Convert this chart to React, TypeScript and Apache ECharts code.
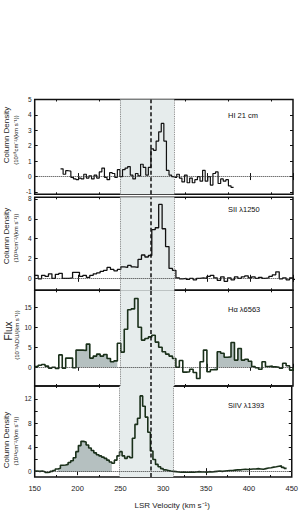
import React, { useEffect, useRef } from "react";
import * as echarts from "echarts";

// ---------- data ----------
const velocityTicks = [150, 200, 250, 300, 350, 400, 450];
const velocityMinorTicks = [175, 225, 275, 325, 375, 425];

const hiStart = 180;
const hiStep = 3;
const hiValues = [
  0.5, 0.15, 0.38, 0.35, -0.05, -0.15, -0.2, -0.1, -0.15, 0.15, -0.1, 0.05, -0.15, 0.1, -0.1, 0.3,
  0.55, -0.05, -0.2, 0.25, 0.2, -0.05, 0.45, 0.0, 0.45, 0.55, 0.65, 0.1, -0.15, 0.2, 0.05, 0.8,
  0.6, 0.1, 0.6, 1.8, 1.7, 2.3, 2.9, 3.45, 2.3, 0.4, 0.1, 0.0, -0.05, 0.15, -0.1, -0.35,
  0.1, -0.4, -0.1, -0.4, -0.2, 0.0, -0.3, 0.4, -0.3, 0.0, -0.55, 0.2, 0.3, -0.45, -0.15, -0.3,
  -0.2, -0.6, -0.7,
];

const siiStart = 150;
const siiStep = 4;
const siiValues = [
  0.3, -0.05, 0.3, 0.2, 0.45, 0.0, 0.4, 0.5, 0.0, 0.0, 0.05, 0.6, 0.6, 0.2, 0.3, 0.1,
  0.3, 0.45, 0.55, 0.7, 0.8, 1.1, 0.9, 0.75, 0.9, 1.15, 1.1, 1.3, 1.15, 1.1, 1.9, 2.35,
  2.15, 2.3, 4.9, 5.1, 7.45, 5.0, 3.2, 1.0, 0.8, 0.05, -0.05, 0.0, -0.1, 0.0, -0.15, 0.0,
  0.05, 0.0, 0.2, 0.3, 0.05, -0.2, 0.15, -0.3, 0.05, -0.15, 0.15, 0.0, 0.15, 0.25, 0.05, 0.15,
  0.0, 0.1, 0.0, 0.05, 0.2, 0.35, 0.65, -0.05, 0.05, -0.15, 0.05, -0.1,
];

const haStart = 150;
const haStep = 4;
const haValues = [
  0.2, 0.5, 0.7, 0.3, -0.2, 0.0, -0.3, 3.1, -0.2, 2.3, 2.3, -0.1, 4.3, 4.3, 4.2, 5.8,
  2.3, 2.8, 3.3, 2.8, 3.2, 2.2, 1.4, 1.6, 6.0, 3.8, 9.5, 14.4, 14.6, 17.2, 10.0, 6.8,
  7.2, 7.6, 8.0, 6.3, 5.0, 3.9, 3.3, 2.8, 2.2, 0.0, 1.7, -1.2, -1.1, -0.5, -1.3, -2.8,
  1.4, 4.3, -1.1, -0.6, -0.6, 3.9, 3.5, 2.5, 2.6, 6.2, 1.8, 4.7, 1.8, 2.0, 1.5, 0.2,
  -0.1, -0.5, 1.4, 0.2, 0.3, 0.1, 0.0, -0.2, 1.0, 0.4, -0.7, -0.3,
];
const haFillRanges = [
  [198, 246],
  [358, 402],
];

const sivStart = 150;
const sivStep = 3;
const sivValues = [
  0.1, 0.05, 0.1, 0.0, -0.15, -0.1, 0.05, 0.2, 0.45, 0.55, 1.05, 1.1, 1.2, 1.5, 1.8, 2.3,
  3.3, 4.3, 5.0, 4.9, 4.4, 3.9, 3.5, 3.1, 2.8, 2.6, 2.4, 2.2, 1.9, 1.6, 1.4, 1.9,
  2.6, 3.3, 2.6, 2.2, 2.5, 2.3, 5.5, 7.8, 8.8, 12.5, 10.8, 9.0, 6.5, 3.4, 2.0, 1.2,
  0.8, 0.5, 0.3, 0.2, 0.1, 0.05, 0.0, -0.05, -0.1, -0.05, -0.1, -0.1, -0.05, -0.1, -0.05, 0.0,
  -0.05, -0.05, -0.1, 0.0, -0.05, 0.0, 0.05, 0.1, 0.05, 0.1, 0.15, 0.2, 0.2, 0.25, 0.3, 0.3,
  0.35, 0.4, 0.35, 0.4, 0.45, 0.45, 0.5, 0.45, 0.4, 0.5, 0.6, 0.65, 0.75, 0.8, 0.9, 0.95,
  0.7, 0.55,
];
const sivFillRanges = [[177, 240]];

const shadeFrom = 249;
const shadeTo = 312;
const centerVelocity = 285;

const panelTitles = ["HI 21 cm", "SII λ1250", "Hα λ6563", "SiIV λ1393"];
const panelYNames = ["Column Density", "Column Density", "Flux", "Column Density"];
const panelYUnits = [
  "(10¹⁸cm⁻²/(km s⁻¹))",
  "(10¹³cm⁻²/(km s⁻¹))",
  "(10⁻³ADU/(km s⁻¹))",
  "(10¹¹cm⁻²/(km s⁻¹))",
];
const panelYTicks = [
  [-1, 0, 1, 2, 3, 4, 5],
  [0, 2, 4, 6, 8],
  [0, 5, 10, 15],
  [0, 2, 4, 6, 8, 10, 12],
];
const panelYLabels = [
  [-1, 0, 1, 2, 3, 4, 5],
  [0, 2, 4, 6, 8],
  [0, 5, 10, 15],
  [0, 4, 8, 12],
];
const panelYRange = [
  [-1.15, 5],
  [-1.21, 8.17],
  [-4.68, 19.25],
  [-0.88, 14.13],
];

// ---------- layout ----------
const GRID_LEFT = 34.7;
const GRID_WIDTH = 258.3;
const panelBoxes = [
  { top: 99.5, height: 94.8 },
  { top: 197.3, height: 93 },
  { top: 290.3, height: 95.7 },
  { top: 386, height: 91.7 },
];
const FONT = "'Liberation Sans', Arial, Helvetica, sans-serif";
const NARROW = "'Liberation Sans Narrow', 'Liberation Sans', Arial, sans-serif";

function toSeries(start: number, step: number, values: number[]) {
  const pts = values.map((v, i) => [start + i * step, v]);
  pts.push([start + values.length * step, values[values.length - 1]]);
  return pts;
}

function fillSubset(start: number, step: number, values: number[], from: number, to: number) {
  const pts: number[][] = [];
  let last = 0;
  values.forEach((v, i) => {
    const x = start + i * step;
    if (x >= from && x < to) {
      pts.push([x, v]);
      last = v;
    }
  });
  pts.push([to, last]);
  return pts;
}

function tickAxis(gridIndex: number, position: string, values: number[], length: number, isX: boolean, range?: number[]) {
  const base: any = {
    type: "value",
    gridIndex,
    position,
    axisLine: { show: false },
    splitLine: { show: false },
    axisLabel: { show: false },
    axisTick: {
      show: true,
      inside: true,
      length,
      customValues: values,
      lineStyle: { color: "#111", width: 1 },
    },
  };
  if (isX) {
    base.min = 150;
    base.max = 450;
  } else if (range) {
    base.min = range[0];
    base.max = range[1];
  }
  return base;
}

export default function App() {
  const ref = useRef<HTMLDivElement>(null);

  useEffect(() => {
    if (!ref.current) return;
    const chart = echarts.init(ref.current, undefined, { renderer: "svg" });

    const grids = panelBoxes.map((b) => ({
      left: GRID_LEFT,
      width: GRID_WIDTH,
      top: b.top,
      height: b.height,
      show: true,
      borderColor: "#111",
      borderWidth: 1.5,
      backgroundColor: "transparent",
    }));

    const xAxes: any[] = [];
    // index i: main bottom axes with major ticks + labels
    panelBoxes.forEach((_, i) => {
      xAxes.push({
        type: "value",
        gridIndex: i,
        min: 150,
        max: 450,
        position: "bottom",
        axisLine: { show: false },
        splitLine: { show: false },
        axisTick: {
          show: true,
          inside: true,
          length: 3.5,
          customValues: velocityTicks,
          lineStyle: { color: "#111", width: 1 },
        },
        axisLabel: {
          show: i === 3,
          customValues: velocityTicks,
          fontSize: 7.5,
          color: "#222",
          fontFamily: FONT,
          margin: 7,
        },
        name: i === 3 ? "LSR Velocity (km s⁻¹)" : "",
        nameLocation: "middle",
        nameGap: 24,
        nameTextStyle: { fontSize: 8, color: "#222", fontFamily: FONT, padding: [0, 0, 0, 18] },
      });
    });
    panelBoxes.forEach((_, i) => xAxes.push(tickAxis(i, "top", velocityTicks, 3.5, true)));
    panelBoxes.forEach((_, i) => xAxes.push(tickAxis(i, "bottom", velocityMinorTicks, 2, true)));
    panelBoxes.forEach((_, i) => xAxes.push(tickAxis(i, "top", velocityMinorTicks, 2, true)));

    const yAxes: any[] = [];
    panelBoxes.forEach((_, i) => {
      yAxes.push({
        type: "value",
        gridIndex: i,
        min: panelYRange[i][0],
        max: panelYRange[i][1],
        position: "left",
        axisLine: { show: false },
        splitLine: { show: false },
        axisTick: {
          show: true,
          inside: true,
          length: 3,
          customValues: panelYTicks[i],
          lineStyle: { color: "#111", width: 1 },
        },
        axisLabel: {
          show: true,
          customValues: panelYLabels[i],
          fontSize: 6.5,
          color: "#222",
          fontFamily: FONT,
          margin: 3,
        },
      });
    });
    panelBoxes.forEach((_, i) => yAxes.push(tickAxis(i, "right", panelYTicks[i], 3, false, panelYRange[i])));

    const datasets = [
      { data: toSeries(hiStart, hiStep, hiValues), color: "#111", width: 1.2 },
      { data: toSeries(siiStart, siiStep, siiValues), color: "#111", width: 1.3 },
      { data: toSeries(haStart, haStep, haValues), color: "#1a301a", width: 1.6 },
      { data: toSeries(sivStart, sivStep, sivValues), color: "#1a301a", width: 1.6 },
    ];

    const series: any[] = [];

    // shading + reference lines
    panelBoxes.forEach((_, i) => {
      series.push({
        type: "line",
        xAxisIndex: i,
        yAxisIndex: i,
        data: [],
        silent: true,
        z: 1,
        markArea: {
          silent: true,
          itemStyle: { color: "#e6ecec" },
          data: [[{ xAxis: shadeFrom }, { xAxis: shadeTo }]],
        },
        markLine: {
          silent: true,
          symbol: "none",
          label: { show: false },
          data: [
            { xAxis: shadeFrom, lineStyle: { color: "#777", type: "dotted", width: 0.9 } },
            { xAxis: shadeTo, lineStyle: { color: "#777", type: "dotted", width: 0.9 } },
            { yAxis: 0, lineStyle: { color: "#333", type: "dotted", width: 1 } },
          ],
        },
      });
    });

    // fills
    haFillRanges.forEach(([a, b]) => {
      series.push({
        type: "line",
        xAxisIndex: 2,
        yAxisIndex: 2,
        step: "end",
        symbol: "none",
        silent: true,
        z: 2,
        lineStyle: { width: 0 },
        areaStyle: { color: "#b5c0c0", opacity: 1 },
        data: fillSubset(haStart, haStep, haValues, a, b),
      });
    });
    sivFillRanges.forEach(([a, b]) => {
      series.push({
        type: "line",
        xAxisIndex: 3,
        yAxisIndex: 3,
        step: "end",
        symbol: "none",
        silent: true,
        z: 2,
        lineStyle: { width: 0 },
        areaStyle: { color: "#b5c0c0", opacity: 1 },
        data: fillSubset(sivStart, sivStep, sivValues, a, b),
      });
    });

    // main spectra
    datasets.forEach((d, i) => {
      series.push({
        type: "line",
        xAxisIndex: i,
        yAxisIndex: i,
        step: "end",
        symbol: "none",
        z: 3,
        lineStyle: { color: d.color, width: d.width },
        data: d.data,
      });
    });

    // dashed centre line on top
    panelBoxes.forEach((_, i) => {
      series.push({
        type: "line",
        xAxisIndex: i,
        yAxisIndex: i,
        data: [],
        silent: true,
        z: 4,
        markLine: {
          silent: true,
          symbol: "none",
          label: { show: false },
          data: [{ xAxis: centerVelocity, lineStyle: { color: "#111", type: [4, 2.5], width: 1.5 } }],
        },
      });
    });

    const graphics: any[] = [];
    const titleY = [115, 209, 309, 405];
    const nameY = [135, 236, 331, 440];
    const unitY = [140, 238, 335, 441];
    panelBoxes.forEach((_, i) => {
      graphics.push({
        type: "text",
        left: 228,
        top: titleY[i] - 4,
        style: {
          text: panelTitles[i],
          fontSize: 7.5,
          fill: "#111",
          fontFamily: FONT,
        },
      });
      graphics.push({
        type: "text",
        x: i === 2 ? 8 : 6.5,
        y: nameY[i],
        rotation: Math.PI / 2,
        style: {
          text: panelYNames[i],
          fontSize: i === 2 ? 10 : 8,
          fill: "#222",
          fontFamily: NARROW,
          textAlign: "center",
          textVerticalAlign: "middle",
        },
      });
      graphics.push({
        type: "text",
        x: i === 2 ? 17 : 15.5,
        y: unitY[i],
        rotation: Math.PI / 2,
        style: {
          text: panelYUnits[i],
          fontSize: 6,
          fill: "#222",
          fontFamily: NARROW,
          textAlign: "center",
          textVerticalAlign: "middle",
        },
      });
    });

    chart.setOption({
      animation: false,
      backgroundColor: "#fff",
      grid: grids,
      xAxis: xAxes,
      yAxis: yAxes,
      series,
      graphic: graphics,
    });

    return () => chart.dispose();
  }, []);

  return (
    <div
      ref={ref}
      style={{ position: "absolute", left: 0, top: 0, width: 301, height: 510 }}
    />
  );
}
